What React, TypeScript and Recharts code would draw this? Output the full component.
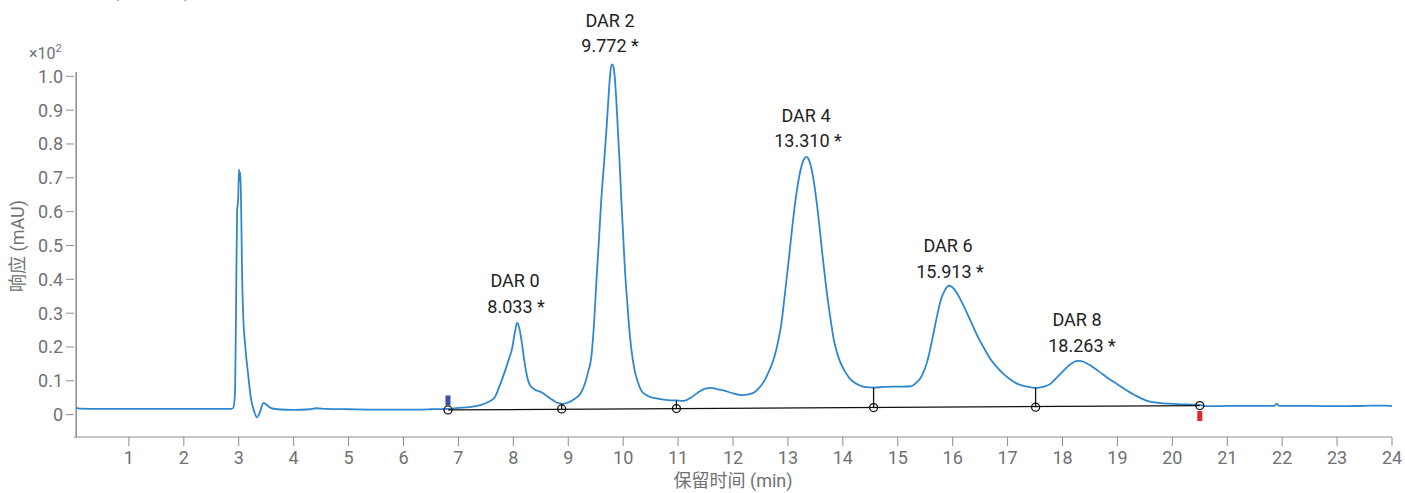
import { LineChart, Line, XAxis, YAxis, ReferenceLine, ReferenceDot } from "recharts";

// retention time (min) and response (x10^2 mAU)
const TIMES = [
  0.04, 0.1, 0.5, 1.0, 1.5, 2.0, 2.5, 2.85, 2.9, 2.93, 2.95, 2.97, 2.99, 3.005, 3.02, 3.03, 3.045, 3.06, 3.08,
  3.12, 3.17, 3.22, 3.28, 3.33, 3.38, 3.45, 3.5, 3.58, 3.7, 4.0, 4.3, 4.4, 4.6, 5.0, 5.5, 6.0, 6.5, 6.8,
  7.0, 7.2, 7.4, 7.55, 7.66, 7.75, 7.84, 7.92, 7.97, 8.03, 8.07, 8.11, 8.15, 8.2, 8.24, 8.3, 8.38, 8.51,
  8.62, 8.72, 8.82, 8.9, 9.0, 9.12, 9.22, 9.3, 9.36, 9.42, 9.47, 9.51, 9.56, 9.6, 9.65, 9.69, 9.73, 9.76,
  9.79, 9.82, 9.845, 9.875, 9.907, 9.94, 9.967, 10.0, 10.03, 10.08, 10.12, 10.16, 10.21, 10.27, 10.33,
  10.42, 10.51, 10.65, 10.82, 10.97, 11.11, 11.24, 11.36, 11.48, 11.6, 11.72, 11.84, 12.0, 12.15, 12.3,
  12.39, 12.48, 12.57, 12.66, 12.75, 12.82, 12.88, 12.94, 13.0, 13.06, 13.12, 13.18, 13.24, 13.3, 13.34,
  13.39, 13.45, 13.51, 13.57, 13.63, 13.69, 13.76, 13.84, 13.93, 14.03, 14.12, 14.21, 14.3, 14.39, 14.57,
  14.75, 14.93, 15.1, 15.24, 15.34, 15.42, 15.48, 15.54, 15.6, 15.66, 15.72, 15.78, 15.85, 15.93, 16.0,
  16.09, 16.18, 16.27, 16.36, 16.45, 16.57, 16.69, 16.81, 16.93, 17.05, 17.18, 17.35, 17.51, 17.65, 17.78,
  17.9, 18.02, 18.14, 18.24, 18.3, 18.4, 18.51, 18.66, 18.81, 19.0, 19.18, 19.36, 19.54, 19.75, 20.02,
  20.25, 20.5, 20.6, 20.8, 21.0, 21.5, 21.85, 21.9, 21.95, 22.5, 23.0, 23.5, 23.9, 24.0,
];
const RESPONSE = [
  0.02, 0.018, 0.017, 0.017, 0.017, 0.017, 0.017, 0.017, 0.02, 0.06, 0.3, 0.6, 0.64, 0.725, 0.69, 0.715, 0.6, 0.42, 0.3,
  0.2, 0.12, 0.05, 0.01, -0.008, 0.005, 0.035, 0.03, 0.02, 0.016, 0.014, 0.016, 0.019, 0.017, 0.016, 0.015, 0.015, 0.016, 0.017,
  0.02, 0.022, 0.028, 0.038, 0.051, 0.085, 0.125, 0.165, 0.19, 0.245, 0.272, 0.255, 0.218, 0.16, 0.121, 0.088, 0.075, 0.066,
  0.054, 0.043, 0.034, 0.032, 0.036, 0.047, 0.062, 0.09, 0.125, 0.17, 0.27, 0.386, 0.52, 0.632, 0.74, 0.83, 0.93, 1.0,
  1.035, 1.03, 1.0, 0.93, 0.83, 0.73, 0.632, 0.53, 0.435, 0.32, 0.238, 0.18, 0.13, 0.095, 0.071,
  0.058, 0.051, 0.047, 0.043, 0.042, 0.041, 0.051, 0.065, 0.076, 0.079, 0.075, 0.071, 0.063, 0.058, 0.061,
  0.066, 0.08, 0.1, 0.13, 0.169, 0.215, 0.268, 0.35, 0.435, 0.525, 0.612, 0.68, 0.73, 0.757, 0.762,
  0.75, 0.71, 0.645, 0.563, 0.47, 0.386, 0.3, 0.218, 0.165, 0.13, 0.108, 0.095, 0.087, 0.082, 0.08,
  0.082, 0.083, 0.083, 0.084, 0.095, 0.11, 0.13, 0.159, 0.2, 0.248, 0.295, 0.337, 0.365, 0.381, 0.376,
  0.356, 0.328, 0.297, 0.265, 0.233, 0.197, 0.164, 0.14, 0.12, 0.104, 0.091, 0.083, 0.079, 0.082, 0.091,
  0.11, 0.13, 0.148, 0.158, 0.159, 0.155, 0.145, 0.128, 0.11, 0.09, 0.071, 0.054, 0.041, 0.035, 0.032,
  0.03, 0.029, 0.025, 0.025, 0.026, 0.026, 0.026, 0.032, 0.026, 0.026, 0.025, 0.026, 0.027, 0.025,
];

// integration baseline: start / split / end points (time, response)
const BASE_T = [6.81, 8.88, 10.97, 14.56, 17.51, 20.5];
const BASE_Y = [0.014, 0.017, 0.018, 0.021, 0.022, 0.027];
// drop lines rise from the baseline to the trace at the split points
const DROP_TOP = [null, 0.032, 0.042, 0.08, 0.079, null];

const X_TICKS = Array.from({ length: 24 }, (_, i) => i + 1);
const Y_TICKS = [0, 0.1, 0.2, 0.3, 0.4, 0.5, 0.6, 0.7, 0.8, 0.9, 1.0];

const PEAK_NAMES = ["DAR 0", "DAR 2", "DAR 4", "DAR 6", "DAR 8"];
const PEAK_RT = ["8.033", "9.772", "13.310", "15.913", "18.263"];

const data = TIMES.map((t, i) => ({ t, v: RESPONSE[i] }));

const W = 1405;
const H = 493;
const FONT = "Roboto, 'Noto Sans CJK SC', sans-serif";
const TICK = "#707173";
const AXIS = "#8c8c8c";
const TRACE = "#2f87d0";

// pixel anchors for the peak captions: [cx first line, baseline1, cx second line, baseline2]
const CAPTION_POS = [
  [515, 287, 516, 313],
  [610, 27, 610, 52],
  [806, 122, 808, 147],
  [948, 252, 950, 278],
  [1077, 326, 1082, 352],
];

export default function App() {
  return (
    <div style={{ position: "absolute", left: 0, top: 0, width: W, height: H, background: "#fff", fontFamily: FONT }}>
      <LineChart width={W} height={H} data={data} margin={{ top: 56, right: 13, left: 0, bottom: 26 }}>
        <XAxis
          dataKey="t" type="number" domain={[0.04, 24]} ticks={X_TICKS} allowDecimals={false}
          stroke={AXIS} tickSize={9} tickMargin={5} height={30}
          tick={{ fill: TICK, fontSize: 18, fontFamily: FONT }}
        />
        <YAxis
          type="number" domain={[-0.066, 1.06]} ticks={Y_TICKS} width={74} axisLine={false}
          stroke={AXIS} tickSize={8} tickMargin={3}
          tickFormatter={(v: number) => (v === 0 ? "0" : v.toFixed(1))}
          tick={{ fill: TICK, fontSize: 18, fontFamily: FONT }}
        />
        <ReferenceLine
          segment={[{ x: 0.04, y: -0.066 }, { x: 0.04, y: 1.013 }]}
          stroke={AXIS} strokeWidth={1.5} ifOverflow="visible"
        />
        <Line type="monotone" dataKey="v" stroke={TRACE} strokeWidth={1.8} dot={false} isAnimationActive={false} />
        <ReferenceLine
          segment={[{ x: BASE_T[0], y: BASE_Y[0] }, { x: BASE_T[BASE_T.length - 1], y: BASE_Y[BASE_Y.length - 1] }]}
          stroke="#111" strokeWidth={1.3} ifOverflow="visible"
        />
        {BASE_T.map((t, i) =>
          DROP_TOP[i] == null ? null : (
            <ReferenceLine key={"d" + i}
              segment={[{ x: t, y: BASE_Y[i] }, { x: t, y: DROP_TOP[i] as number }]}
              stroke="#111" strokeWidth={1.3} ifOverflow="visible" />
          )
        )}
        {BASE_T.map((t, i) => (
          <ReferenceDot key={"c" + i} x={t} y={BASE_Y[i]} r={4} fill="none" stroke="#111" strokeWidth={1.3} ifOverflow="visible" />
        ))}
        <ReferenceDot
          x={BASE_T[0]} y={BASE_Y[0]} ifOverflow="visible"
          shape={(p: any) => <rect x={p.cx - 2.5} y={p.cy - 14.5} width={5} height={10} fill="#3f51a8" />}
        />
        <ReferenceDot
          x={BASE_T[BASE_T.length - 1]} y={BASE_Y[BASE_Y.length - 1]} ifOverflow="visible"
          shape={(p: any) => <rect x={p.cx - 2.5} y={p.cy + 5.5} width={5} height={10} fill="#e52629" />}
        />
      </LineChart>
      <svg width={W} height={H} style={{ position: "absolute", left: 0, top: 0, pointerEvents: "none" }}>
        <text x={113} y={-3} fontSize={18} fill={TICK} fontFamily={FONT}>(</text>
        <text x={184} y={-3} fontSize={18} fill={TICK} fontFamily={FONT}>)</text>
        <text x={29} y={59} fontSize={16} fill={TICK} fontFamily={FONT}>
          ×10<tspan fontSize={11} dy={-7}>2</tspan>
        </text>
        <text
          x={0} y={0} transform="translate(24 246) rotate(-90)" textAnchor="middle"
          fontSize={18} fill={TICK} fontFamily={FONT}
        >
          响应 (mAU)
        </text>
        <text x={733} y={487} textAnchor="middle" fontSize={18} fill={TICK} fontFamily={FONT}>
          保留时间 (min)
        </text>
        {PEAK_NAMES.map((name, i) => {
          const [x1, y1, x2, y2] = CAPTION_POS[i];
          return (
            <g key={name} fontFamily={FONT} fontSize={18} fill="#222">
              <text x={x1} y={y1} textAnchor="middle">{name}</text>
              <text x={x2} y={y2} textAnchor="middle">{PEAK_RT[i] + " *"}</text>
            </g>
          );
        })}
      </svg>
    </div>
  );
}
